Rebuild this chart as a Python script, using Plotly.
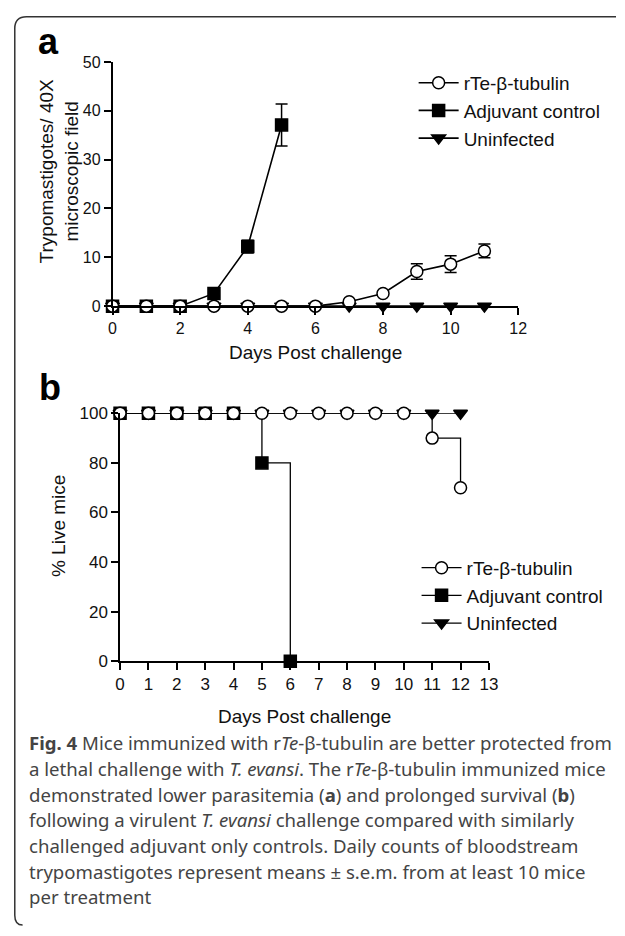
import plotly.graph_objects as go

W, H = 625, 936

# ---- Data: panel a (parasitemia) ----
days_a = [0, 1, 2, 3, 4, 5, 6, 7, 8, 9, 10, 11]
rte_a = [0, 0, 0, 0, 0, 0, 0, 0.9, 2.6, 7.1, 8.6, 11.3]
rte_a_err = [0, 0, 0, 0, 0, 0, 0, 0.3, 0.4, 1.6, 1.7, 1.4]
adj_days_a = [0, 1, 2, 3, 4, 5]
adj_a = [0, 0, 0, 2.6, 12.2, 37.1]
adj_a_err = [0, 0, 0, 0.5, 1.3, 4.3]
uninf_a = [0, 0, 0, 0, 0, 0, 0, 0, 0, 0, 0, 0]

# ---- Data: panel b (survival) ----
days_b = [0, 1, 2, 3, 4, 5, 6, 7, 8, 9, 10, 11, 12]
rte_b = [100, 100, 100, 100, 100, 100, 100, 100, 100, 100, 100, 90, 70]
adj_days_b = [0, 1, 2, 3, 4, 5, 6]
adj_b = [100, 100, 100, 100, 100, 80, 0]
uninf_b = [100] * 13

names = ["rTe-β-tubulin", "Adjuvant control", "Uninfected"]
ticks_a_x = [0, 2, 4, 6, 8, 10, 12]
ticks_a_y = [0, 10, 20, 30, 40, 50]
ticks_b_x = list(range(14))
ticks_b_y = [0, 20, 40, 60, 80, 100]

def px(x):
    return x / W

def py(y):
    return 1 - y / H

fig = go.Figure()

lw_a = 1.6
ms = 12
mline = dict(color="black", width=1.5)

# Panel a traces
fig.add_trace(go.Scatter(x=days_a, y=uninf_a, name=names[2], mode="lines+markers",
    line=dict(color="black", width=lw_a), marker=dict(symbol="triangle-down", size=ms, color="black", line=mline),
    xaxis="x", yaxis="y", legend="legend", legendgroup="u", legendrank=3, cliponaxis=False))
fig.add_trace(go.Scatter(x=adj_days_a, y=adj_a, name=names[1], mode="lines+markers",
    error_y=dict(type="data", array=adj_a_err, color="black", thickness=1.5, width=6),
    line=dict(color="black", width=lw_a), marker=dict(symbol="square", size=ms, color="black", line=mline),
    xaxis="x", yaxis="y", legend="legend", legendgroup="a", legendrank=2, cliponaxis=False))
fig.add_trace(go.Scatter(x=days_a, y=rte_a, name=names[0], mode="lines+markers",
    error_y=dict(type="data", array=rte_a_err, color="black", thickness=1.5, width=6),
    line=dict(color="black", width=lw_a), marker=dict(symbol="circle", size=ms, color="white", line=mline),
    xaxis="x", yaxis="y", legend="legend", legendgroup="r", legendrank=1, cliponaxis=False))

# Panel b traces
lw_b = 1.3
fig.add_trace(go.Scatter(x=days_b, y=uninf_b, name=names[2], mode="lines+markers", line_shape="hv",
    line=dict(color="black", width=lw_b), marker=dict(symbol="triangle-down", size=ms, color="black", line=mline),
    xaxis="x2", yaxis="y2", legend="legend2", legendgroup="u2", legendrank=3, cliponaxis=False))
fig.add_trace(go.Scatter(x=adj_days_b, y=adj_b, name=names[1], mode="lines+markers", line_shape="hv",
    line=dict(color="black", width=lw_b), marker=dict(symbol="square", size=ms, color="black", line=mline),
    xaxis="x2", yaxis="y2", legend="legend2", legendgroup="a2", legendrank=2, cliponaxis=False))
fig.add_trace(go.Scatter(x=days_b, y=rte_b, name=names[0], mode="lines+markers", line_shape="hv",
    line=dict(color="black", width=lw_b), marker=dict(symbol="circle", size=ms, color="white", line=mline),
    xaxis="x2", yaxis="y2", legend="legend2", legendgroup="r2", legendrank=1, cliponaxis=False))

def axfont(s):
    return dict(family="Liberation Sans, Arial, sans-serif", size=s, color="#111")

common = dict(showline=True, linecolor="black", linewidth=1.6, ticks="outside", ticklen=7,
              tickwidth=1.5, tickcolor="black", showgrid=False, zeroline=False,
              fixedrange=True)

legfont = dict(family="Liberation Sans, Arial, sans-serif", size=19, color="#111")

fig.update_layout(
    width=W, height=H, margin=dict(l=0, r=0, t=0, b=0),
    paper_bgcolor="white", plot_bgcolor="white",
    xaxis=dict(domain=[px(110), px(525)], range=[0, 12], tickvals=ticks_a_x, anchor="y",
               tickfont=axfont(16), **common),
    yaxis=dict(domain=[py(303.3), py(54)], range=[0, 50], tickvals=ticks_a_y, anchor="x",
               tickfont=axfont(16), **common),
    xaxis2=dict(domain=[px(117.7), px(495)], range=[0, 13], tickvals=ticks_b_x, anchor="y2",
                tickfont=axfont(17), **common),
    yaxis2=dict(domain=[py(665.7), py(412.7)], range=[0, 100], tickvals=ticks_b_y, anchor="x2",
                tickfont=axfont(17), **common),
    legend=dict(x=px(418), y=py(56), xanchor="left", yanchor="top", font=legfont,
                traceorder="grouped", tracegroupgap=0, bgcolor="rgba(0,0,0,0)", itemwidth=40),
    legend2=dict(x=px(421), y=py(551), xanchor="left", yanchor="top", font=legfont,
                 traceorder="grouped", tracegroupgap=0, bgcolor="rgba(0,0,0,0)", itemwidth=40),
    showlegend=True,
)

titlefont = dict(family="Liberation Sans, Arial, sans-serif", size=19, color="#111")
ann = []
ann.append(dict(x=px(318), y=py(351), text="Days Post challenge", font=titlefont))
ann.append(dict(x=px(306), y=py(722), text="Days Post challenge", font=titlefont))
ann.append(dict(x=px(55), y=py(166), text="Trypomastigotes/ 40X<br>microscopic field", font=titlefont, textangle=-90))
ann.append(dict(x=px(55), y=py(528), text="% Live mice", font=titlefont, textangle=-90))
labfont = dict(family="Liberation Sans, Arial, sans-serif", size=36, color="black")
ann.append(dict(x=px(44), y=py(33), text="<b>a</b>", font=labfont))
ann.append(dict(x=px(46), y=py(386), text="<b>b</b>", font=labfont))

caption = [
    "<b>Fig. 4</b> Mice immunized with r<i>Te</i>-β-tubulin are better protected from",
    "a lethal challenge with <i>T. evansi</i>. The r<i>Te</i>-β-tubulin immunized mice",
    "demonstrated lower parasitemia (<b>a</b>) and prolonged survival (<b>b</b>)",
    "following a virulent <i>T. evansi</i> challenge compared with similarly",
    "challenged adjuvant only controls. Daily counts of bloodstream",
    "trypomastigotes represent means ± s.e.m. from at least 10 mice",
    "per treatment",
]
capfont = dict(family="Noto Sans, Open Sans, sans-serif", size=18.6, color="#444")
for i, line in enumerate(caption):
    ann.append(dict(x=px(23), y=py(749 + 26.2 * i), text=line, font=capfont, xanchor="left"))

for a in ann:
    a.setdefault("xanchor", "center")
    a.update(xref="paper", yref="paper", yanchor="middle", showarrow=False)
fig.update_layout(annotations=ann)

# frame (top and left edges with rounded corners)
path = (f"M {px(625)},{py(8)} L {px(22)},{py(8)} Q {px(10)},{py(8)} {px(10)},{py(20)} "
        f"L {px(10)},{py(925)} Q {px(10)},{py(935)} {px(18)},{py(935)}")
fig.add_shape(type="path", path=path, xref="paper", yref="paper",
              line=dict(color="#333", width=1.5))

fig.write_html("out.html", config={"displayModeBar": False},
               post_script="document.body.style.margin='0';document.body.style.overflow='hidden';")
